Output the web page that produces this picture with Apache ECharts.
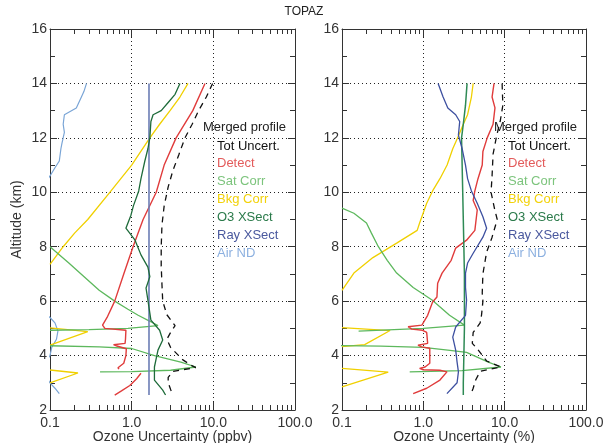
<!DOCTYPE html>
<html>
<head>
<meta charset="utf-8">
<script src="https://cdn.jsdelivr.net/npm/echarts@6/dist/echarts.min.js"></script>
<style>
  html, body { margin: 0; padding: 0; background: #fff; }
  #chart { width: 608px; height: 443px; }
</style>
</head>
<body>
<div id="chart"></div>
<script>
// [uncertainty, altitude km]; null splits a curve into pieces
const totPpb = [[9.8,14],[8.2,13.5],[6.6,13],[5.5,12.5],[4.5,12],[3.8,11.4],[3.2,10.8],[2.8,10.2],[2.5,9.5],[2.35,8.8],[2.3,8],[2.3,7.3],[2.35,6.6],[2.4,6],[2.7,5.5],[3.4,5.1],[3.0,4.85],[2.7,4.6],[3.0,4.3],[4.2,3.85],[5.3,3.65],[6.1,3.56],[3.2,3.42],[2.8,3.2],[2.8,3.0],[3.0,2.75],[3.2,2.55]]
const detectPpb = [[7.9,14],[5.6,13],[3.5,12],[2.5,11],[2.0,10],[1.38,9],[1.04,8],[0.8,7],[0.62,6],[0.5,5.4],[0.44,5.12],[0.47,5.0],[0.85,4.93],[0.84,4.6],[0.83,4.45],[0.6,4.4],[0.66,4.35],[0.86,4.25],[0.85,4.0],[0.8,3.72],[0.68,3.55],[0.7,3.5],null,[1.3,3.35],[1.15,3.15],[0.95,2.9],[0.75,2.7],[0.62,2.55]]
const satPpb = [[0.1,8.0],[0.17,7.4],[0.24,7.0],[0.4,6.4],[0.62,6.0],[0.9,5.7],[1.2,5.48],[1.7,5.25],[2.1,5.1],[0.9,5.0],[0.3,4.95],[0.1,4.93],null,[0.1,4.36],[0.4,4.32],[1.0,4.26],[1.9,4.0],[4.0,3.76],[6.1,3.58],[3.0,3.46],[1.0,3.41],[0.41,3.4]]
const bkgPpb = [[4.9,14],[3.9,13.5],[2.95,13],[2.2,12.5],[1.67,12],[1.0,11],[0.54,10],[0.29,9],[0.2,8.5],[0.145,8],[0.1,7.35],null,[0.1,5.02],[0.29,4.88],[0.1,4.38],null,[0.1,3.47],[0.22,3.36],[0.1,3.0]]
const o3Ppb = [[3.9,14],[3.4,13.6],[2.8,13.3],[2.3,13],[1.83,12.85],[1.72,12.6],[1.67,12],[1.58,11.6],[1.45,11.15],[1.3,10.5],[1.22,10.05],[1.05,9.5],[0.98,9.16],[0.85,8.68],[1.1,8.24],[1.3,7.7],[1.58,7.25],[1.67,6.9],[1.5,6.48],[1.58,6.04],[1.72,5.3],[2.2,4.93],[2.4,4.57],[2.1,4.2],[1.9,3.58],[1.9,3.1],[2.4,2.73],[2.6,2.55]]
const rayPpb = [[1.63,14],[1.63,2.55]]
const airPpb = [[0.28,14],[0.26,13.7],[0.24,13.47],[0.21,13.1],[0.15,12.85],[0.145,12.5],[0.15,12.2],[0.14,11.8],[0.136,11.6],[0.13,11.15],[0.115,10.9],[0.1,10.6],[0.09,10.4],null,[0.09,5.5],[0.1,5.4],[0.115,5.2],[0.125,4.9],[0.12,4.6],[0.105,4.3],[0.1,4.0],[0.09,3.8],null,[0.09,3.2],[0.1,3.0],[0.115,2.8],[0.13,2.6]]

const totPct = [[9.3,14],[9.5,13.2],[8.8,12.6],[8.0,12.1],[7.2,11.4],[7.0,10.6],[6.8,10],[7.5,9.4],[8.1,9.0],[7.0,8.35],[6.0,7.8],[5.4,7.0],[5.3,6.3],[5.4,6.0],[5.2,5.5],[5.0,5.2],[4.1,4.85],[4.0,4.45],[4.6,4.25],[6.0,3.8],[9.0,3.58],[5.0,3.42],[4.4,3.1],[4.1,2.8],[3.8,2.55]]
const detectPct = [[7.4,14],[7.0,13.5],[7.6,13.1],[7.2,12.5],[6.1,12],[5.4,11.5],[5.3,11],[4.7,10.5],[4.3,10.05],[4.1,9.7],[4.6,9.35],[4.3,8.6],[3.4,8.24],[2.5,7.95],[2.2,7.5],[1.7,7.03],[1.5,6.66],[1.47,6.15],[1.3,5.97],[1.13,5.48],[0.96,5.12],[0.65,5.06],[0.72,4.97],[0.98,4.93],[1.1,4.85],[1.13,4.45],[0.86,4.38],[0.95,4.32],[1.2,4.27],[1.2,3.72],[1.05,3.58],[0.9,3.53],[1.0,3.48],[1.6,3.46],[1.95,3.4],[1.6,3.1],[1.1,2.8],[0.75,2.6]]
const satPct = [[0.1,9.42],[0.14,9.23],[0.2,8.87],[0.23,8.5],[0.28,8.0],[0.36,7.5],[0.47,7.03],[0.75,6.5],[1.28,6.04],[2.1,5.48],[3.2,5.12],[1.0,5.0],[0.16,4.9],null,[0.09,4.37],[0.3,4.35],[1.0,4.3],[2.0,4.2],[3.4,4.12],[6.3,3.76],[9.0,3.58],[3.0,3.45],[0.68,3.4]]
const bkgPct = [[4.1,14],[3.9,13.5],[3.5,12.85],[3.1,12.5],[2.7,12.07],[2.3,11.6],[1.96,11],[1.6,10.5],[1.3,10.05],[1.1,9.6],[0.9,8.87],[0.84,8.6],[0.47,8.13],[0.24,7.6],[0.14,7.03],[0.1,6.4],null,[0.1,5.03],[0.39,4.92],[0.19,4.4],[0.1,4.33],null,[0.1,3.53],[0.37,3.39],[0.1,2.85]]
const o3Pct = [[3.45,14],[3.3,13.2],[3.1,12.5],[2.95,12],[3.0,11],[3.05,10],[3.1,9],[3.15,8],[3.2,7],[3.2,6],[3.2,5],[3.15,4],[3.1,3],[3.1,2.55]]
const rayPct = [[1.52,14],[1.75,13.5],[2.0,13.1],[2.5,12.85],[2.8,12.6],[2.7,12.1],[3.0,11.6],[3.3,11],[3.5,10.5],[3.9,10.05],[4.6,9.6],[5.4,9.1],[6.0,8.68],[5.4,8.35],[4.1,7.76],[3.5,7.4],[3.3,7.03],[3.3,6.5],[3.4,6.04],[3.3,5.48],[2.5,5.05],[2.3,4.68],[2.5,4.2],[2.6,3.76],[2.7,3.4],[2.6,3.0],[1.95,2.6]]

const legendNames = ['Tot Uncert.', 'Detect', 'Sat Corr', 'Bkg Corr', 'O3 XSect', 'Ray XSect', 'Air ND']
const legendColors = ['#111', '#e35b5b', '#7cc47c', '#f2d20a', '#2a7a4a', '#4a599e', '#8cb0e0']
const xTitles = ['Ozone Uncertainty (ppbv)', 'Ozone Uncertainty (%)']

const FONT = '"Liberation Sans", Arial, sans-serif'
const grids = [
  { left: 50, top: 29, width: 245, height: 381, outerBoundsMode: 'none' },
  { left: 342, top: 29, width: 244, height: 381, outerBoundsMode: 'none' },
]

// minor log ticks (2..9 in each decade), in log10 units
const minorLog = []
for (const k of [-1, 0, 1]) for (let m = 2; m <= 9; m++) minorLog.push(k + Math.log10(m))

const dotted = { show: true, lineStyle: { color: '#222', type: [1, 3], width: 1 } }
const frame = { show: true, onZero: false, lineStyle: { color: '#333', width: 1 } }
const minorAxis = (i, position) => ({
  type: 'value', min: -1, max: 2, gridIndex: i, position,
  axisLine: { show: false, onZero: false },
  axisTick: { show: true, inside: true, length: 5, customValues: minorLog, lineStyle: { color: '#333' } },
  axisLabel: { show: false }, splitLine: { show: false },
})

const xAxis = []
const yAxis = []
grids.forEach((g, i) => {
  xAxis.push({
    type: 'log', logBase: 10, min: 0.1, max: 100, gridIndex: i, position: 'bottom',
    name: xTitles[i], nameLocation: 'middle', nameGap: 20, nameMoveOverlap: false,
    nameTextStyle: { fontSize: 14, color: '#333', fontFamily: FONT },
    axisLine: frame,
    axisTick: { show: true, inside: true, length: 8, lineStyle: { color: '#333' } },
    axisLabel: { fontSize: 14, color: '#333', fontFamily: FONT, margin: 6, formatter: (v) => v.toFixed(1) },
    splitLine: dotted,
  })
  xAxis.push(minorAxis(i, 'bottom'))
  xAxis.push({
    type: 'log', logBase: 10, min: 0.1, max: 100, gridIndex: i, position: 'top',
    axisLine: frame,
    axisTick: { show: true, inside: true, length: 8, lineStyle: { color: '#333' } },
    axisLabel: { show: false }, splitLine: { show: false },
  })
  xAxis.push(minorAxis(i, 'top'))
  yAxis.push({
    type: 'value', min: 2, max: 16, interval: 2, gridIndex: i, position: 'left',
    name: i === 0 ? 'Altitude (km)' : '', nameLocation: 'middle', nameGap: 26, nameMoveOverlap: false,
    nameTextStyle: { fontSize: 14, color: '#333', fontFamily: FONT },
    axisLine: frame,
    axisTick: { show: true, inside: true, length: 7, lineStyle: { color: '#333' } },
    minorTick: { show: true, splitNumber: 2, length: 5, lineStyle: { color: '#333' } },
    axisLabel: { fontSize: 14, color: '#333', fontFamily: FONT, margin: 3 },
    splitLine: dotted,
  })
  yAxis.push({
    type: 'value', min: 2, max: 16, interval: 2, gridIndex: i, position: 'right',
    axisLine: frame,
    axisTick: { show: true, inside: true, length: 7, lineStyle: { color: '#333' } },
    minorTick: { show: true, splitNumber: 2, length: 5, lineStyle: { color: '#333' } },
    axisLabel: { show: false }, splitLine: { show: false },
  })
})

function pieces(arr) {
  const out = [[]]
  arr.forEach((p) => (p === null ? out.push([]) : out[out.length - 1].push(p)))
  return out.filter((s) => s.length > 1)
}

const series = []
function addCurve(panel, name, data, color, width, dash) {
  pieces(data).forEach((seg) => {
    series.push({
      name, type: 'line', data: seg, xAxisIndex: panel * 4, yAxisIndex: panel * 2,
      symbol: 'none', clip: true, silent: true,
      lineStyle: { color, width, type: dash || 'solid' },
    })
  })
}

addCurve(0, 'Air ND', airPpb, '#7aa5d6', 1.2)
addCurve(0, 'Bkg Corr', bkgPpb, '#f0d000', 1.3)
addCurve(0, 'Sat Corr', satPpb, '#5db85d', 1.3)
addCurve(0, 'Detect', detectPpb, '#e03c3c', 1.4)
addCurve(0, 'Ray XSect', rayPpb, '#6c7db5', 1.6)
addCurve(0, 'O3 XSect', o3Ppb, '#1e6b3a', 1.3)
addCurve(0, 'Tot Uncert.', totPpb, '#111', 1.3, [6, 5])

addCurve(1, 'Bkg Corr', bkgPct, '#f0d000', 1.3)
addCurve(1, 'Sat Corr', satPct, '#5db85d', 1.3)
addCurve(1, 'Detect', detectPct, '#e03c3c', 1.4)
addCurve(1, 'O3 XSect', o3Pct, '#2e8a55', 1.5)
addCurve(1, 'Ray XSect', rayPct, '#3d50a0', 1.3)
addCurve(1, 'Tot Uncert.', totPct, '#111', 1.3, [6, 5])

const graphic = [{
  type: 'text', x: 304, y: 12,
  style: { text: 'TOPAZ', fill: '#222', font: '12px ' + FONT, align: 'center', verticalAlign: 'middle' },
}]
const legendPos = [{ hx: 203, ix: 217 }, { hx: 494, ix: 508 }]
legendPos.forEach((p) => {
  graphic.push({
    type: 'text', x: p.hx, y: 127,
    style: { text: 'Merged profile', fill: '#222', font: '13px ' + FONT, verticalAlign: 'middle' },
  })
  legendNames.forEach((n, k) => {
    graphic.push({
      type: 'text', x: p.ix, y: 146 + k * 17.9,
      style: { text: n, fill: legendColors[k], font: '13px ' + FONT, verticalAlign: 'middle' },
    })
  })
})

const chart = echarts.init(document.getElementById('chart'), null, { renderer: 'canvas' })
chart.setOption({
  animation: false,
  backgroundColor: '#fff',
  grid: grids,
  xAxis, yAxis, series, graphic,
})
</script>
</body>
</html>
